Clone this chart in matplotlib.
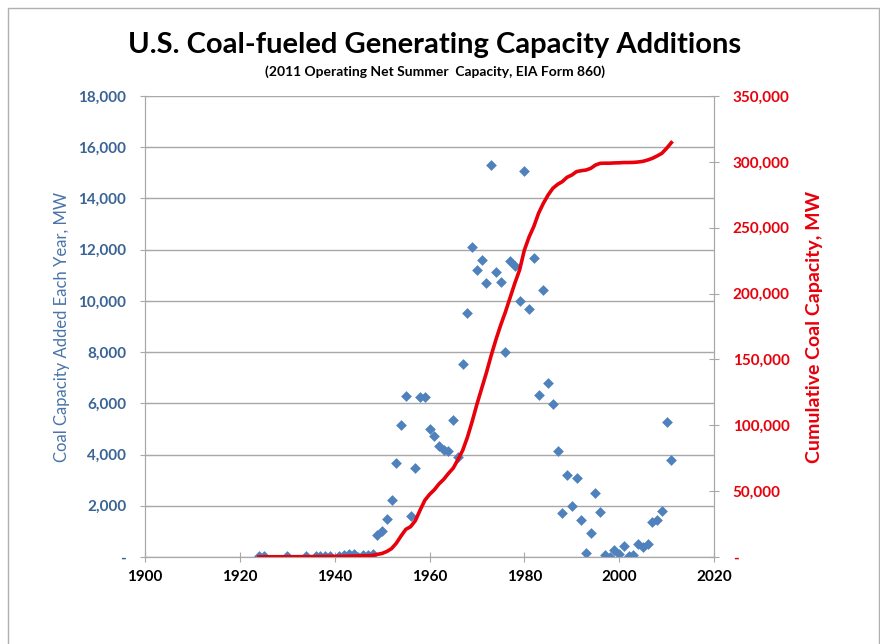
import matplotlib
matplotlib.use("Agg")
import matplotlib.pyplot as plt
from matplotlib.ticker import FuncFormatter, MultipleLocator
from matplotlib.patches import Rectangle

# capacity added each year (MW)
years = [1924, 1925, 1930, 1934, 1936, 1937, 1938, 1939, 1941, 1942, 1943, 1944,
         1945, 1946, 1947, 1948, 1949, 1950, 1951, 1952, 1953, 1954, 1955, 1956,
         1957, 1958, 1959, 1960, 1961, 1962, 1963, 1964, 1965, 1966, 1967, 1968,
         1969, 1970, 1971, 1972, 1973, 1974, 1975, 1976, 1977, 1978, 1979, 1980,
         1981, 1982, 1983, 1984, 1985, 1986, 1987, 1988, 1989, 1990, 1991, 1992,
         1993, 1994, 1995, 1996, 1997, 1998, 1999, 2000, 2001, 2002, 2003, 2004,
         2005, 2006, 2007, 2008, 2009, 2010, 2011]
added = [20, 20, 30, 20, 25, 30, 25, 30, 30, 60, 130, 100, 10, 60, 90, 130,
         850, 1020, 1500, 2220, 3680, 5150, 6290, 1590, 3460, 6230, 6260, 5000,
         4720, 4330, 4170, 4150, 5360, 3890, 7520, 9520, 12090, 11190, 11610,
         10690, 15320, 11110, 10720, 8010, 11540, 11380, 9980, 15060, 9690, 11670,
         6340, 10430, 6805, 5970, 4120, 1735, 3220, 1990, 3080, 1435, 156, 950,
         2500, 1750, 66, 0, 262, 130, 430, 27, 66, 524, 391, 524, 1369, 1435,
         1787, 5279, 3781]

# cumulative capacity (MW)
cumulative = [100, 150, 200, 250, 300, 350, 400, 450, 500, 550, 650, 750,
              800, 900, 1000, 1200, 2000, 2700, 4200, 6400, 10500, 16000, 21000, 23000,
              27500, 35500, 43000, 47500, 51000, 55500, 59000, 63500, 67500, 74000,
              81000, 91000, 103000, 116000, 128000, 140000, 153000, 165000, 176000,
              186000, 197000, 208000, 218000, 233000, 243000, 251000, 261000, 268500,
              274800, 279900, 282900, 285000, 288300, 290000, 292600, 293300, 293800,
              295100, 297600, 298900, 299000, 299000, 299200, 299300, 299500, 299500,
              299600, 299900, 300400, 301400, 302700, 304500, 306500, 310300, 314600]

blue = '#4F81BD'
axis_blue = '#3A6496'
red = '#E8000B'
font = 'Lato'

fig = plt.figure(figsize=(8.8, 6.44), dpi=100)
fig.patches.append(Rectangle((0.009, -0.01), 0.99, 0.998, transform=fig.transFigure,
                             fill=False, edgecolor='#B0B0B0', linewidth=1.0))
ax = fig.add_axes([0.1648, 0.1351, 0.6466, 0.7158])
ax2 = ax.twinx()

ax.scatter(years, added, marker='D', s=30, color=blue, zorder=3, linewidths=0)
ax2.plot(years, cumulative, color=red, linewidth=2.6, zorder=4)

ax.set_xlim(1900, 2020)
ax.set_ylim(0, 18000)
ax2.set_ylim(0, 350000)
ax.xaxis.set_major_locator(MultipleLocator(20))
ax.yaxis.set_major_locator(MultipleLocator(2000))
ax2.yaxis.set_major_locator(MultipleLocator(50000))

fmt = FuncFormatter(lambda v, p: '-' if v == 0 else '{:,.0f}'.format(v))
ax.yaxis.set_major_formatter(fmt)
ax2.yaxis.set_major_formatter(fmt)

ax.grid(axis='y', color='#A8A8A8', linewidth=1.0)
ax.set_axisbelow(True)
for a in (ax, ax2):
    a.spines['top'].set_visible(False)
    for s in ('left', 'right', 'bottom'):
        a.spines[s].set_color('#A8A8A8')
ax.tick_params(axis='y', direction='inout', length=7, color='#A8A8A8', pad=10,
               labelcolor=axis_blue, labelsize=11)
ax.tick_params(axis='x', direction='inout', length=7, color='#A8A8A8', pad=6,
               labelcolor='black', labelsize=11)
ax2.tick_params(axis='y', direction='inout', length=7, color='#A8A8A8', pad=10,
                labelcolor=red, labelsize=11)
for lbl in ax.get_xticklabels() + ax.get_yticklabels() + ax2.get_yticklabels():
    lbl.set_fontweight('bold')
    lbl.set_fontfamily(font)

ax.set_ylabel('Coal Capacity Added Each Year, MW', color='#4A74A8', fontsize=12,
              fontfamily=font, labelpad=6)
ax2.set_ylabel('Cumulative Coal Capacity, MW', color=red, fontsize=14,
               fontweight='bold', fontfamily=font, labelpad=12)

fig.text(0.494, 0.93, 'U.S. Coal-fueled Generating Capacity Additions', ha='center',
         va='center', fontsize=21, fontweight='bold', fontfamily=font)
fig.text(0.494, 0.888, '(2011 Operating Net Summer  Capacity, EIA Form 860)', ha='center',
         va='center', fontsize=10, fontweight='bold', fontfamily=font)

fig.savefig('out.png', dpi=100)
